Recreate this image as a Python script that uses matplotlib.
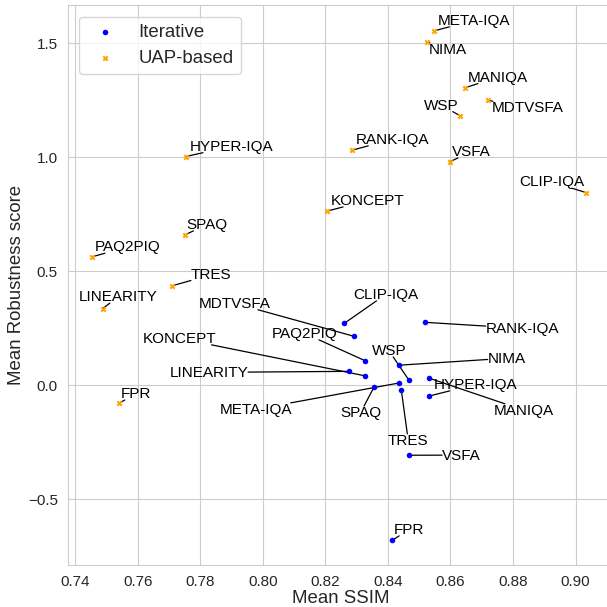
import matplotlib
matplotlib.use("Agg")
import matplotlib.pyplot as plt
import seaborn as sns

# Mean SSIM / mean robustness per IQA metric, for the two attack families
iter_names = ['CLIP-IQA', 'MDTVSFA', 'RANK-IQA', 'PAQ2PIQ', 'WSP', 'NIMA', 'MANIQA',
              'HYPER-IQA', 'KONCEPT', 'LINEARITY', 'META-IQA', 'SPAQ', 'TRES', 'VSFA', 'FPR']
iter_ssim = [0.8261, 0.8291, 0.8520, 0.8328, 0.8467, 0.8436, 0.8532,
             0.8533, 0.8328, 0.8276, 0.8436, 0.8356, 0.8443, 0.8469, 0.8414]
iter_rob = [0.272, 0.215, 0.276, 0.107, 0.023, 0.088, 0.031,
            -0.047, 0.041, 0.061, 0.010, -0.007, -0.022, -0.307, -0.680]

uap_names = ['META-IQA', 'NIMA', 'MANIQA', 'WSP', 'MDTVSFA', 'RANK-IQA', 'VSFA', 'CLIP-IQA',
             'KONCEPT', 'HYPER-IQA', 'SPAQ', 'PAQ2PIQ', 'TRES', 'LINEARITY', 'FPR']
uap_ssim = [0.8546, 0.8525, 0.8645, 0.8631, 0.8719, 0.8285, 0.8599, 0.9034,
            0.8206, 0.7753, 0.7750, 0.7453, 0.7709, 0.7488, 0.7540]
uap_rob = [1.554, 1.506, 1.304, 1.182, 1.250, 1.031, 0.981, 0.845,
           0.764, 1.003, 0.659, 0.563, 0.436, 0.336, -0.079]

# label placement (text centres), kept apart from the data
iter_label_pos = [(0.8393, 0.396), (0.7910, 0.357), (0.8830, 0.247), (0.8134, 0.225),
                  (0.8403, 0.150), (0.8780, 0.116), (0.8835, -0.112), (0.8679, 0.001),
                  (0.7734, 0.203), (0.7827, 0.054), (0.7977, -0.108), (0.8313, -0.122),
                  (0.8465, -0.244), (0.8635, -0.309), (0.8468, -0.635)]
uap_label_pos = [(0.8675, 1.598), (0.8593, 1.471), (0.8751, 1.349), (0.8571, 1.226),
                 (0.8846, 1.215), (0.8414, 1.076), (0.8668, 1.023), (0.8923, 0.890),
                 (0.8335, 0.808), (0.7900, 1.046), (0.7822, 0.703), (0.7569, 0.605),
                 (0.7835, 0.482), (0.7537, 0.386), (0.7595, -0.039)]

sns.set_style('whitegrid')
plt.rcParams['font.family'] = ['Liberation Sans', 'DejaVu Sans']

fig = plt.figure(figsize=(6.07, 6.07), dpi=100)
ax = fig.add_axes([0.1115, 0.069, 0.9, 0.922])

ax.scatter(iter_ssim, iter_rob, s=16, color='blue', marker='o', linewidths=0,
           label='Iterative', zorder=3)
ax.scatter(uap_ssim, uap_rob, s=18, color='orange', marker='X', linewidths=0,
           label='UAP-based', zorder=3)

ax.set_xlim(0.7376, 0.9123)
ax.set_ylim(-0.789, 1.666)
ax.set_xticks([0.74, 0.76, 0.78, 0.80, 0.82, 0.84, 0.86, 0.88, 0.90])
ax.set_yticks([-0.5, 0.0, 0.5, 1.0, 1.5])
ax.tick_params(axis='both', labelsize=11)
ax.set_xlabel('Mean SSIM', fontsize=13.4, labelpad=1)
ax.set_ylabel('Mean Robustness score', fontsize=13.4, labelpad=2)

ax.legend(loc='upper left', fontsize=13.4, labelspacing=0.45,
          handletextpad=0.8, borderpad=0.4, borderaxespad=0.6)

labels = []
for name, x, y, pos in zip(iter_names + uap_names, iter_ssim + uap_ssim,
                           iter_rob + uap_rob, iter_label_pos + uap_label_pos):
    t = ax.text(pos[0], pos[1], name, ha='center', va='center', fontsize=11, color='black')
    labels.append((t, x, y))

# connector lines: from the point towards the label centre, stopped at the text box
fig.canvas.draw()
renderer = fig.canvas.get_renderer()
to_data = ax.transData.inverted()
for t, x, y in labels:
    bb = t.get_window_extent(renderer)
    x0, x1 = bb.x0, bb.x1
    y0, y1 = bb.y0 + 0.08 * bb.height, bb.y1
    cx, cy = (x0 + x1) / 2, (y0 + y1) / 2
    px, py = ax.transData.transform((x, y))
    dx, dy = px - cx, py - cy
    f = min((x1 - x0) / 2 / abs(dx) if dx else 1e9,
            (y1 - y0) / 2 / abs(dy) if dy else 1e9)
    if f >= 1:
        continue
    ex, ey = to_data.transform((cx + f * dx, cy + f * dy))
    ax.plot([ex, x], [ey, y], color='black', lw=0.9, zorder=2)

fig.savefig('out.png', dpi=100)
